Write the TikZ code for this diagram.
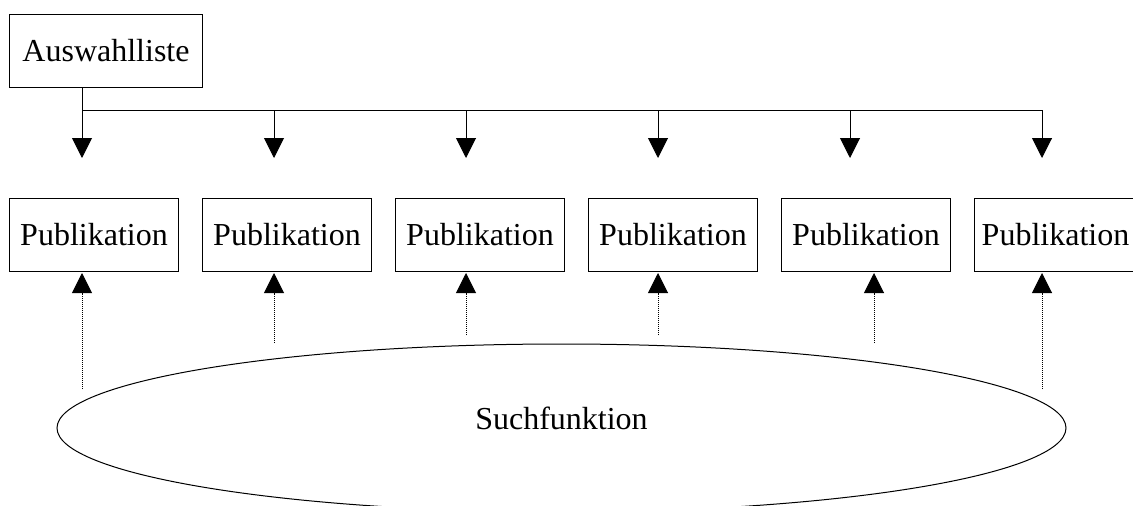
\documentclass[tikz,border=0pt]{standalone}
\usepackage{fontspec}
\setmainfont{Liberation Serif}
\usetikzlibrary{positioning,arrows.meta,shapes.geometric}
\tikzset{
	chart/.style={x=1pt,y=-1pt,node distance=23pt,line width=1pt,
		font=\fontsize{32}{38}\selectfont},
	pub/.style={rectangle,draw,inner sep=0pt,minimum width=169pt,minimum height=73pt},
	search/.style={ellipse,draw,inner sep=0pt,minimum width=1009pt,minimum height=168pt,text depth=20pt},
	down/.style={-{Triangle[length=20pt,width=20pt]}},
	up/.style={-{Triangle[length=20pt,width=20pt]},line width=1pt,dash pattern=on 1pt off 1pt}
}

\begin{document}
\begin{tikzpicture}[chart]
	\useasboundingbox (0,0) rectangle (1133,506);
	
	\node[pub, minimum width=193pt, anchor=north west] (ausw) at (9,14) {Auswahlliste};
	\node[pub, anchor=north west] (p1) at (9,198) {Publikation};
	\node[pub] (p2) [right= of p1] {Publikation};
	\node[pub] (p3) [right= of p2] {Publikation};
	\node[pub] (p4) [right= of p3] {Publikation};
	\node[pub] (p5) [right= of p4] {Publikation};
	\node[pub, minimum width=162pt] (p6) [right= of p5] {Publikation};
	\node[search] (such) at (561.5,428) {Suchfunktion};
	
	% Verteiler
	\coordinate (b1) at (82,110);
	\coordinate (b2) at (274,110);
	\coordinate (b3) at (466,110);
	\coordinate (b4) at (658,110);
	\coordinate (b5) at (850,110);
	\coordinate (b6) at (1042,110);
	\draw (ausw.south -| b1) -- (b1) -- (b6);
	\foreach \i in {1,...,6}
		\draw[down] (b\i) -- ++(0,48);
	
	% Suche
	\coordinate (s1) at (82,389);
	\coordinate (s2) at (274,343);
	\coordinate (s3) at (466,335);
	\coordinate (s4) at (658,335);
	\coordinate (s5) at (874,343);
	\coordinate (s6) at (1042,389);
	\foreach \i in {1,...,6}
		\draw[up] (s\i) -- (s\i |- 0,273);
\end{tikzpicture}
\end{document}
